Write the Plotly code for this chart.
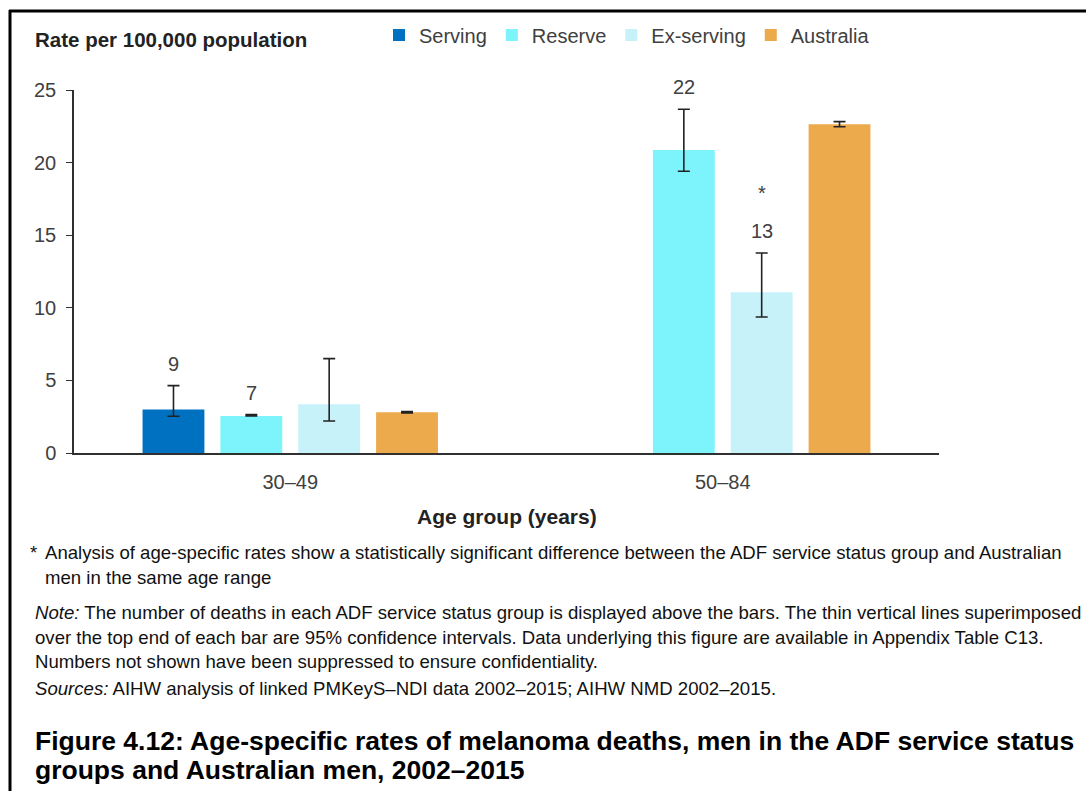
import plotly.graph_objects as go

# Age groups on the x axis
age_groups = ["30–49", "50–84"]

# Service status series
series_names = ["Serving", "Reserve", "Ex-serving", "Australia"]
series_colors = ["#0070C0", "#7DF3FC", "#C8F2FA", "#ECAA4C"]

# Age-specific rates per 100,000 (None = suppressed)
rate_serving = [3.0, None]
rate_reserve = [2.55, 20.87]
rate_ex_serving = [3.35, 11.07]
rate_australia = [2.80, 22.64]

# 95% confidence interval bounds
ci_low_serving = [2.53, None]
ci_high_serving = [4.64, None]
ci_low_reserve = [2.55, 19.40]
ci_high_reserve = [2.64, 23.67]
ci_low_ex_serving = [2.20, 9.37]
ci_high_ex_serving = [6.50, 13.77]
ci_low_australia = [2.76, 22.47]
ci_high_australia = [2.86, 22.82]

# Number of deaths shown above bars ("" = not shown)
deaths_serving = ["9", ""]
deaths_reserve = ["7", "22"]
deaths_ex_serving = ["", "13"]
deaths_australia = ["", ""]

# Significance markers
signif_serving = ["", ""]
signif_reserve = ["", ""]
signif_ex_serving = ["", "*"]
signif_australia = ["", ""]

y_ticks = [0, 5, 10, 15, 20, 25]

rates = [rate_serving, rate_reserve, rate_ex_serving, rate_australia]
ci_low = [ci_low_serving, ci_low_reserve, ci_low_ex_serving, ci_low_australia]
ci_high = [ci_high_serving, ci_high_reserve, ci_high_ex_serving, ci_high_australia]
deaths = [deaths_serving, deaths_reserve, deaths_ex_serving, deaths_australia]
signif = [signif_serving, signif_reserve, signif_ex_serving, signif_australia]

# Canvas and plot-area geometry (pixels)
W, H = 1086, 791
L, R, T, B = 74, 147, 90, 338
PW, PH = W - L - R, H - T - B

def px(x):
    return (x - L) / PW

def py(y):
    return (H - B - y) / PH

FONT = "Liberation Sans, Arial, sans-serif"
TXT = "#404040"

SLOT = 0.18        # distance between bar centres within a group (category units)
BAR_W = 0.143      # bar width (category units)

fig = go.Figure()
annotations = []
for i, name in enumerate(series_names):
    centre = (i - 1.5) * SLOT
    vals = rates[i]
    plus = [None if v is None else h - v for v, h in zip(vals, ci_high[i])]
    minus = [None if v is None else v - l for v, l in zip(vals, ci_low[i])]
    fig.add_trace(go.Bar(
        name=name,
        x=age_groups,
        y=vals,
        width=BAR_W,
        offset=centre - BAR_W / 2,
        marker=dict(color=series_colors[i], line=dict(width=0)),
        error_y=dict(type="data", symmetric=False, array=plus, arrayminus=minus,
                     color="#222222", thickness=1.6, width=6),
        hoverinfo="skip",
    ))
    for j, g in enumerate(age_groups):
        if vals[j] is None:
            continue
        top = ci_high[i][j]
        if deaths[i][j]:
            annotations.append(dict(x=j + centre, y=top, xref="x", yref="y",
                                    text=deaths[i][j], showarrow=False,
                                    yanchor="middle", yshift=22,
                                    font=dict(size=20, color=TXT, family=FONT)))
        if signif[i][j]:
            annotations.append(dict(x=j + centre, y=top, xref="x", yref="y",
                                    text=signif[i][j], showarrow=False,
                                    yanchor="middle", yshift=60,
                                    font=dict(size=20, color=TXT, family=FONT)))

def note(x, y, text, size=18.6, color="#111111", anchor="left"):
    annotations.append(dict(x=px(x), y=py(y), xref="paper", yref="paper",
                            text=text, showarrow=False, xanchor=anchor,
                            yanchor="middle", align="left",
                            font=dict(size=size, color=color, family=FONT)))

note(33, 40, "<b>Rate per 100,000 population</b>", size=20.5, color="#222222")
note(507, 516, "<b>Age group (years)</b>", size=21, color="#222222", anchor="center")
note(28, 552, "*")
note(43, 552, "Analysis of age-specific rates show a statistically significant difference "
              "between the ADF service status group and Australian")
note(43, 577, "men in the same age range")
note(33, 612, "<i>Note:</i> The number of deaths in each ADF service status group is displayed "
              "above the bars. The thin vertical lines superimposed")
note(33, 637, "over the top end of each bar are 95% confidence intervals. Data underlying "
              "this figure are available in Appendix Table C13.")
note(33, 661, "Numbers not shown have been suppressed to ensure confidentiality.")
note(33, 688, "<i>Sources:</i> AIHW analysis of linked PMKeyS–NDI data 2002–2015; AIHW NMD 2002–2015.")
note(33, 741, "<b>Figure 4.12: Age-specific rates of melanoma deaths, men in the ADF service status</b>",
     size=26.5, color="#000000")
note(33, 770, "<b>groups and Australian men, 2002–2015</b>", size=26.5, color="#000000")

# Frame lines on the left and top edges
shapes = [
    dict(type="line", xref="paper", yref="paper", x0=px(10), x1=px(10), y0=py(10), y1=py(H + 5),
         line=dict(color="#000000", width=3)),
    dict(type="line", xref="paper", yref="paper", x0=px(9), x1=px(W + 5), y0=py(11), y1=py(11),
         line=dict(color="#000000", width=3)),
]

fig.update_layout(
    width=W, height=H,
    margin=dict(l=L, r=R, t=T, b=B, pad=0),
    paper_bgcolor="white", plot_bgcolor="white",
    barmode="overlay",
    showlegend=True,
    legend=dict(orientation="h", x=px(379), y=py(35), xanchor="left", yanchor="middle",
                font=dict(size=20, color=TXT, family=FONT),
                itemsizing="constant", traceorder="normal", bgcolor="rgba(0,0,0,0)"),
    xaxis=dict(type="category", range=[-0.5, 1.5], showline=True, linecolor="#303030",
               linewidth=1.5, ticks="", showgrid=False, zeroline=False,
               tickfont=dict(size=20, color=TXT, family=FONT), ticklabelstandoff=10),
    yaxis=dict(range=[0, 25], tickvals=y_ticks, showline=True, linecolor="#303030",
               linewidth=1.5, ticks="outside", ticklen=6, tickcolor="#303030",
               showgrid=False, zeroline=False, ticklabelstandoff=6,
               tickfont=dict(size=20, color=TXT, family=FONT)),
    annotations=annotations,
    shapes=shapes,
    font=dict(family=FONT),
)

fig.write_html("out.html")
